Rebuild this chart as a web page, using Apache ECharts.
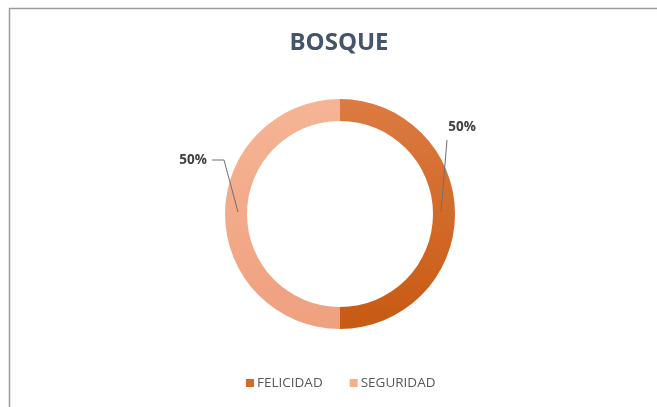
<!DOCTYPE html>
<html>
<head>
<meta charset="utf-8">
<script src="https://cdn.jsdelivr.net/npm/echarts@6/dist/echarts.min.js"></script>
<style>
  html, body { margin: 0; padding: 0; background: #fff; }
  #chart { width: 657px; height: 407px; }
</style>
</head>
<body>
<div id="chart"></div>
<script>
  const titleText = 'BOSQUE'
  const categories = ['FELICIDAD', 'SEGURIDAD']
  const values = [50, 50]

  const colors = [
    new echarts.graphic.LinearGradient(0, 0, 0, 1, [
      { offset: 0, color: '#dc7b42' },
      { offset: 1, color: '#c85a12' }
    ]),
    new echarts.graphic.LinearGradient(0, 0, 0, 1, [
      { offset: 0, color: '#f5b595' },
      { offset: 1, color: '#efa07f' }
    ])
  ]
  const legendColors = ['#d4692a', '#f4ae8d']

  // label spots and leader lines, as in the original Excel chart
  const labelSpots = [
    { x: 462, y: 127, line: [[441, 212], [447, 140]] },
    { x: 193, y: 160, line: [[238, 212], [224, 160], [212, 160]] }
  ]

  const chart = echarts.init(document.getElementById('chart'))
  chart.setOption({
    backgroundColor: '#fff',
    animation: false,
    title: {
      text: titleText,
      left: 334,
      top: 26,
      textAlign: 'center',
      textStyle: {
        fontFamily: 'Open Sans',
        fontSize: 24,
        fontWeight: 'bold',
        color: '#44546a'
      }
    },
    legend: {
      bottom: 12,
      left: 241,
      itemWidth: 8,
      itemHeight: 8,
      itemGap: 27,
      icon: 'rect',
      textStyle: {
        fontFamily: 'Open Sans',
        fontSize: 13.5,
        color: '#595959',
        padding: [0, 0, 0, -2]
      },
      data: categories.map((name, i) => ({
        name: name,
        itemStyle: { color: legendColors[i] }
      }))
    },
    graphic: [{
      type: 'rect',
      shape: { x: 9.5, y: 8.5, width: 700, height: 450 },
      style: { fill: 'none', stroke: '#9c9c9c', lineWidth: 1.5 },
      silent: true
    }].concat(labelSpots.map(s => ({
      type: 'polyline',
      z: 100,
      shape: { points: s.line },
      style: { fill: 'none', stroke: '#6f6f6f', lineWidth: 1 },
      silent: true
    }))),
    series: [{
      type: 'pie',
      center: [340, 214],
      radius: [93, 115],
      startAngle: 90,
      clockwise: true,
      itemStyle: { borderColor: '#fff', borderWidth: 0 },
      label: {
        show: true,
        formatter: '{d}%',
        fontFamily: 'Open Sans',
        fontSize: 13.5,
        fontWeight: 'bold',
        color: '#404040'
      },
      labelLine: { show: false },
      labelLayout: function (params) {
        const spot = labelSpots[params.dataIndex]
        return {
          x: spot.x,
          y: spot.y,
          align: 'center',
          verticalAlign: 'middle'
        }
      },
      data: categories.map((name, i) => ({
        name: name,
        value: values[i],
        itemStyle: { color: colors[i] }
      }))
    }]
  })
</script>
</body>
</html>
